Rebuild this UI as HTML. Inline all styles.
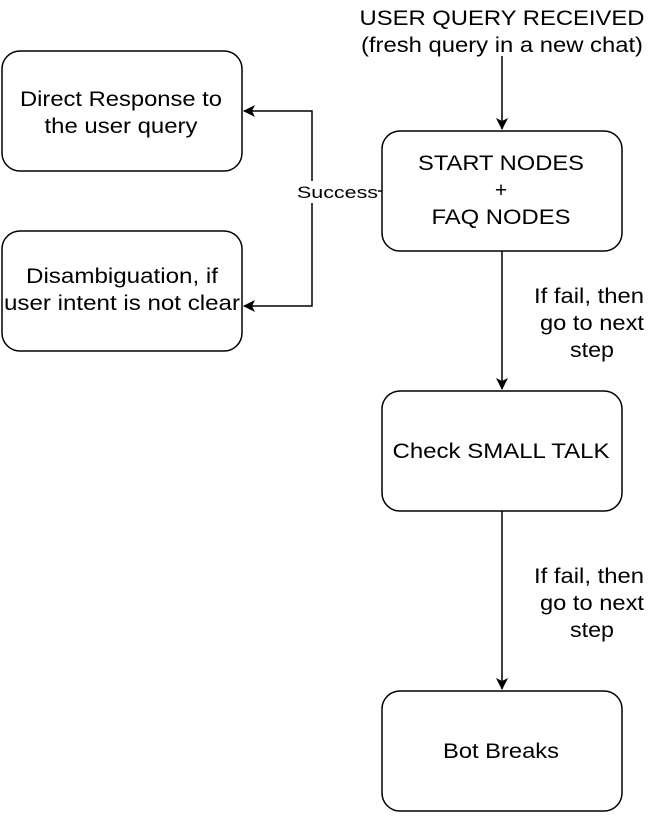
<!DOCTYPE html>
<html><head><style>
body{margin:0;background:#fff;width:668px;height:830px;overflow:hidden}
svg text{font-family:"Liberation Sans",Arial,sans-serif;fill:#000}
</style></head><body>
<svg width="668" height="830" viewBox="0 0 668 830" xmlns="http://www.w3.org/2000/svg">
<defs><marker id="a" markerWidth="12" markerHeight="12" refX="11" refY="6" orient="auto" markerUnits="userSpaceOnUse"><path d="M0,0 L12,6 L0,12 L3,6 Z" fill="#000"/></marker></defs>
<g fill="#fff" stroke="#000" stroke-width="1.5">
<rect x="2" y="51" width="240" height="120" rx="18"/>
<rect x="2" y="231" width="240" height="120" rx="18"/>
<rect x="382" y="131" width="240" height="120" rx="18"/>
<rect x="382" y="391" width="240" height="120" rx="18"/>
<rect x="382" y="691" width="240" height="120" rx="18"/>
</g>
<g stroke="#000" stroke-width="1.5" fill="none">
<line x1="502" y1="56" x2="502" y2="129" marker-end="url(#a)"/>
<line x1="502" y1="251" x2="502" y2="389" marker-end="url(#a)"/>
<line x1="502" y1="511" x2="502" y2="689" marker-end="url(#a)"/>
<polyline points="382,191 312,191 312,111 244,111" marker-end="url(#a)"/>
<polyline points="312,191 312,306 244,306" marker-end="url(#a)"/>
</g>
<rect x="297" y="181" width="81" height="22" fill="#fff"/>
<g font-size="21" text-anchor="middle" lengthAdjust="spacingAndGlyphs">
<text x="502" y="25" textLength="285" lengthAdjust="spacingAndGlyphs">USER QUERY RECEIVED</text>
<text x="502" y="52" textLength="282" lengthAdjust="spacingAndGlyphs">(fresh query in a new chat)</text>
<text x="121" y="106" textLength="202" lengthAdjust="spacingAndGlyphs">Direct Response to</text>
<text x="121" y="133" textLength="153" lengthAdjust="spacingAndGlyphs">the user query</text>
<text x="122" y="283" textLength="192" lengthAdjust="spacingAndGlyphs">Disambiguation, if</text>
<text x="122" y="310" textLength="236" lengthAdjust="spacingAndGlyphs">user intent is not clear</text>
<text x="501" y="170" textLength="166" lengthAdjust="spacingAndGlyphs">START NODES</text>
<text x="501" y="197">+</text>
<text x="501" y="224" textLength="139" lengthAdjust="spacingAndGlyphs">FAQ NODES</text>
<text x="501" y="458" textLength="217" lengthAdjust="spacingAndGlyphs">Check SMALL TALK</text>
<text x="501" y="758" textLength="116" lengthAdjust="spacingAndGlyphs">Bot Breaks</text>
<text x="589" y="303" textLength="110" lengthAdjust="spacingAndGlyphs">If fail, then</text>
<text x="592" y="330" textLength="104" lengthAdjust="spacingAndGlyphs">go to next</text>
<text x="592" y="357" textLength="44" lengthAdjust="spacingAndGlyphs">step</text>
<text x="589" y="583" textLength="110" lengthAdjust="spacingAndGlyphs">If fail, then</text>
<text x="592" y="610" textLength="104" lengthAdjust="spacingAndGlyphs">go to next</text>
<text x="592" y="637" textLength="44" lengthAdjust="spacingAndGlyphs">step</text>
</g>
<text x="337.5" y="198" font-size="17" text-anchor="middle" textLength="81" lengthAdjust="spacingAndGlyphs">Success</text>
</svg>
</body></html>
